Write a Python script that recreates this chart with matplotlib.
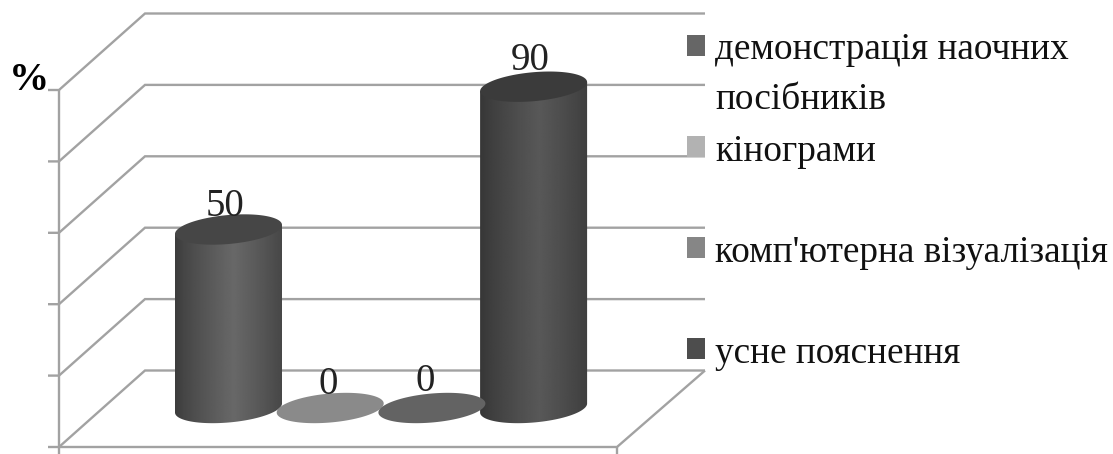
import numpy as np
import matplotlib
matplotlib.use("Agg")
import matplotlib.pyplot as plt
from matplotlib.patches import Polygon, Rectangle

# Survey results drawn as 3D-style cylinders
values = [50, 0, 0, 90]
value_labels = ["50", "0", "0", "90"]
top_colors = ["#464646", "#8a8a8a", "#636363", "#3b3b3b"]
shade_edge = [0x3c, 0x8a, 0x63, 0x36]
shade_mid = [0x68, 0x8a, 0x63, 0x58]
label_shift_px = [(-4, 14), (-2, 14), (-7, 17), (-3, 17)]

legend_lines = [
    ("демонстрація наочних", 59),
    ("посібників", 109),
    ("кінограми", 161),
    ("комп'ютерна візуалізація", 262),
    ("усне пояснення", 363),
]
legend_swatches = [("#666666", 35), ("#b2b2b2", 136), ("#868686", 237), ("#4d4d4d", 338)]
wall_levels = [0, 20, 40, 60, 80, 100]

W, H = 1113, 454
PX_PER_UNIT = 3.57      # vertical pixels per percent
BASE_Y = 408            # pixel row of value 0 in the plane of the bars
FIRST_X, STEP_X = 228.5, 101.7
GRID = "#a2a2a2"

fig = plt.figure(figsize=(W / 100, H / 100), dpi=100, facecolor="white")
ax = fig.add_axes([0, 0, 1, 1])
ax.axis("off")
xlim = (-FIRST_X / STEP_X, (W - FIRST_X) / STEP_X)
ylim = ((BASE_Y - H) / PX_PER_UNIT, BASE_Y / PX_PER_UNIT)


def dx(px):
    # pixel column to category coordinate
    return (px - FIRST_X) / STEP_X


def dy(px):
    # pixel row to percent coordinate
    return (BASE_Y - px) / PX_PER_UNIT


def wall_line(xs, ys):
    ax.plot([dx(x) for x in xs], [dy(y) for y in ys], color=GRID, lw=1.7,
            solid_capstyle="butt", solid_joinstyle="miter", zorder=1)


# Walls, floor and value-axis ticks
FRONT_OFFSET = 39
BACK_OFFSET = -37.5
for level in wall_levels:
    row = BASE_Y - level * PX_PER_UNIT
    wall_line([48, 59, 145, 705], [row + FRONT_OFFSET, row + FRONT_OFFSET,
                                   row + BACK_OFFSET, row + BACK_OFFSET])
base_front = BASE_Y + FRONT_OFFSET
top_front = BASE_Y - 100 * PX_PER_UNIT + FRONT_OFFSET
wall_line([59, 59], [top_front, H])
wall_line([59, 617, 705], [base_front, base_front, BASE_Y + BACK_OFFSET])
wall_line([617, 617], [base_front, H])

# Cylinders: a sheared ellipse at each end with a shaded body between them
A, B, SHEAR = 53.5, 14.5, 4.5
t = np.linspace(0, 2 * np.pi, 181)
for i, (val, top, edge, mid) in enumerate(zip(values, top_colors, shade_edge, shade_mid)):
    cx = FIRST_X + i * STEP_X
    row_top = BASE_Y - val * PX_PER_UNIT
    ex = cx + A * np.cos(t)
    ey_top = row_top - SHEAR * np.cos(t) + B * np.sin(t)
    if val > 0:
        half = t[:91]  # lower half in pixel rows
        lower_x = cx + A * np.cos(half)
        lower_y = BASE_Y - SHEAR * np.cos(half) + B * np.sin(half)
        body_x = np.r_[lower_x, cx - A, cx + A]
        body_y = np.r_[lower_y, row_top + SHEAR, row_top - SHEAR]
        body = Polygon(np.c_[dx(body_x), dy(body_y)], closed=True, fc="none", ec="none", zorder=3)
        ax.add_patch(body)
        u = np.linspace(0, 1, 120)
        shade = edge + (mid - edge) * np.clip(1 - np.abs(u - 0.55) / 0.55, 0, 1) ** 0.8
        img = ax.imshow(np.tile(shade, (2, 1)), cmap="gray", vmin=0, vmax=255, aspect="auto",
                        extent=(dx(cx - A), dx(cx + A), dy(BASE_Y + 25), val + 6), zorder=3,
                        interpolation="bilinear")
        img.set_clip_path(body)
    ax.add_patch(Polygon(np.c_[dx(ex), dy(ey_top)], closed=True, fc=top, ec="none", zorder=4))
    sx, sy = label_shift_px[i]
    ax.text(dx(cx + sx), dy(row_top - sy), value_labels[i], family="Liberation Serif",
            fontsize=28, ha="center", va="baseline", color="#222222", zorder=5)

# Legend
for color, row in legend_swatches:
    ax.add_patch(Rectangle((dx(687), dy(row + 21)), 18 / STEP_X, 21 / PX_PER_UNIT,
                           fc=color, ec="none", zorder=6))
for text, row in legend_lines:
    ax.text(dx(715), dy(row), text, family="Liberation Serif", fontsize=26.8,
            ha="left", va="baseline", color="#111111", zorder=6)

# Axis unit
ax.text(dx(29), dy(90), "%", family="Liberation Serif", weight="bold", fontsize=29,
        ha="center", va="baseline", color="black")

ax.set_xlim(*xlim)
ax.set_ylim(*ylim)
fig.savefig("out.png", dpi=100, facecolor="white")
